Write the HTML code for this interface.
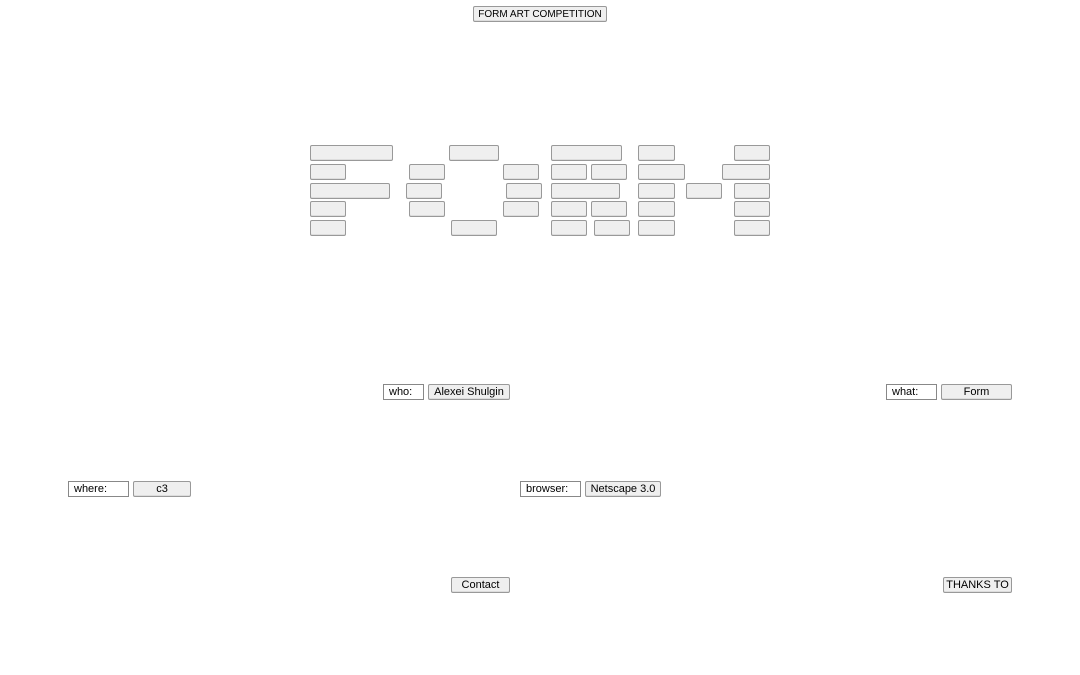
<!DOCTYPE html>
<html><head><meta charset="utf-8"><style>
body{margin:0;width:1080px;height:675px;background:#fff;position:relative;overflow:hidden;font-family:"Liberation Sans",sans-serif;}
.b,.i{position:absolute;box-sizing:border-box;height:16px;font-size:11px;line-height:15px;color:#000;white-space:nowrap;}
.b{background:#efefef;border:1px solid #999;border-radius:2px;text-align:center;box-shadow:inset 0 -1px 0 #ddd;}
.i{background:#fff;border:1px solid #888;padding-left:5px;}
</style></head><body>
<div class="b" style="left:473px;top:6px;width:134px;font-size:10px;">FORM ART COMPETITION</div>

<div class="b" style="left:310px;top:145px;width:83px"></div>
<div class="b" style="left:449px;top:145px;width:50px"></div>
<div class="b" style="left:551px;top:145px;width:71px"></div>
<div class="b" style="left:638px;top:145px;width:37px"></div>
<div class="b" style="left:734px;top:145px;width:36px"></div>

<div class="b" style="left:310px;top:164px;width:36px"></div>
<div class="b" style="left:409px;top:164px;width:36px"></div>
<div class="b" style="left:503px;top:164px;width:36px"></div>
<div class="b" style="left:551px;top:164px;width:36px"></div>
<div class="b" style="left:591px;top:164px;width:36px"></div>
<div class="b" style="left:638px;top:164px;width:47px"></div>
<div class="b" style="left:722px;top:164px;width:48px"></div>

<div class="b" style="left:310px;top:183px;width:80px"></div>
<div class="b" style="left:406px;top:183px;width:36px"></div>
<div class="b" style="left:506px;top:183px;width:36px"></div>
<div class="b" style="left:551px;top:183px;width:69px"></div>
<div class="b" style="left:638px;top:183px;width:37px"></div>
<div class="b" style="left:686px;top:183px;width:36px"></div>
<div class="b" style="left:734px;top:183px;width:36px"></div>

<div class="b" style="left:310px;top:201px;width:36px"></div>
<div class="b" style="left:409px;top:201px;width:36px"></div>
<div class="b" style="left:503px;top:201px;width:36px"></div>
<div class="b" style="left:551px;top:201px;width:36px"></div>
<div class="b" style="left:591px;top:201px;width:36px"></div>
<div class="b" style="left:638px;top:201px;width:37px"></div>
<div class="b" style="left:734px;top:201px;width:36px"></div>

<div class="b" style="left:310px;top:220px;width:36px"></div>
<div class="b" style="left:451px;top:220px;width:46px"></div>
<div class="b" style="left:551px;top:220px;width:36px"></div>
<div class="b" style="left:594px;top:220px;width:36px"></div>
<div class="b" style="left:638px;top:220px;width:37px"></div>
<div class="b" style="left:734px;top:220px;width:36px"></div>

<div class="i" style="left:383px;top:384px;width:41px">who:</div>
<div class="b" style="left:428px;top:384px;width:82px">Alexei Shulgin</div>
<div class="i" style="left:886px;top:384px;width:51px">what:</div>
<div class="b" style="left:941px;top:384px;width:71px">Form</div>

<div class="i" style="left:68px;top:481px;width:61px">where:</div>
<div class="b" style="left:133px;top:481px;width:58px">c3</div>
<div class="i" style="left:520px;top:481px;width:61px">browser:</div>
<div class="b" style="left:585px;top:481px;width:76px">Netscape 3.0</div>

<div class="b" style="left:451px;top:577px;width:59px">Contact</div>
<div class="b" style="left:943px;top:577px;width:69px">THANKS TO</div>
</body></html>
